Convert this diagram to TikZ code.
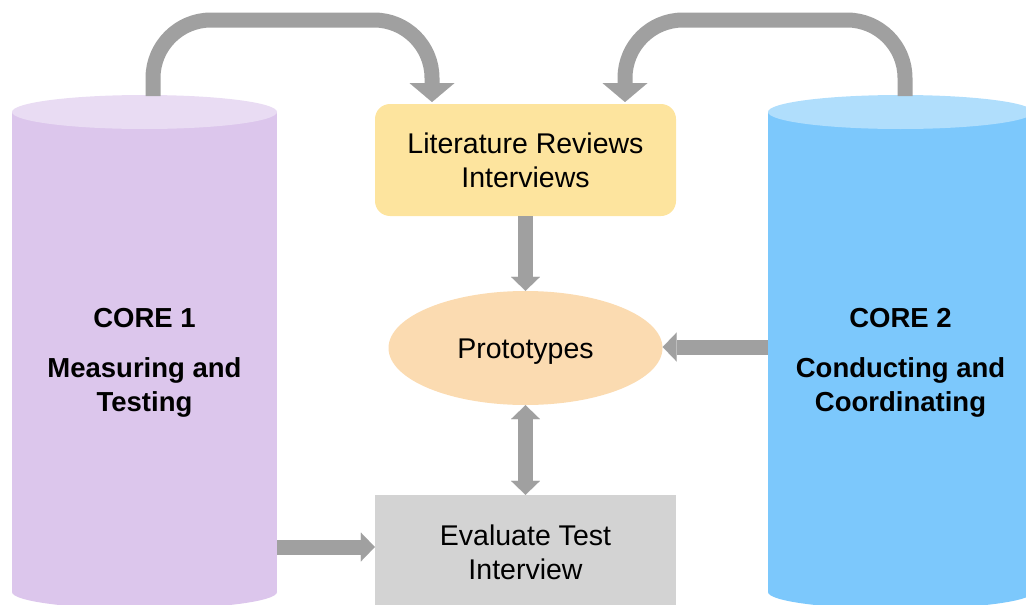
\documentclass[tikz,border=0pt]{standalone}
\usepackage{fontspec}
\setmainfont{Liberation Sans}
\usetikzlibrary{arrows.meta,shapes.geometric}
\definecolor{purplebody}{HTML}{DCC6EC}
\definecolor{purpletop}{HTML}{E9DCF3}
\definecolor{bluebody}{HTML}{7CC8FC}
\definecolor{bluetop}{HTML}{B0DEFC}
\definecolor{litfill}{HTML}{FDE49E}
\definecolor{protofill}{HTML}{FBDBB1}
\definecolor{evalfill}{HTML}{D3D3D3}
\definecolor{arrowgrey}{HTML}{A0A0A0}
\tikzset{
  body/.style={font=\fontsize{28.5}{34}\selectfont, align=center, text=black},
  corelabel/.style={font=\bfseries\fontsize{27.5}{34}\selectfont, align=center, text=black},
  flow/.style={draw=arrowgrey, line width=15pt},
  bigtip/.style={-{Triangle[width=45pt,length=19pt,line width=0.01pt]}},
  smalltip/.style={-{Triangle[width=29pt,length=14pt,line width=0.01pt]}},
  twotips/.style={{Triangle[width=29pt,length=14pt,line width=0.01pt]}-{Triangle[width=29pt,length=14pt,line width=0.01pt]}},
}
\begin{document}
\begin{tikzpicture}[x=1pt,y=-1pt]
\useasboundingbox (0,0) rectangle (1026,605);

% left cylinder
\fill[purplebody] (12,112) rectangle (277,592);
\fill[purplebody] (144.5,592) ellipse [x radius=132.5, y radius=17];
\fill[purpletop] (144.5,112) ellipse [x radius=132.5, y radius=17];
% right cylinder
\fill[bluebody] (768,112) rectangle (1033,592);
\fill[bluebody] (900.5,592) ellipse [x radius=132.5, y radius=17];
\fill[bluetop] (900.5,112) ellipse [x radius=132.5, y radius=17];

\node[corelabel] (core1) at (144.5,363) {CORE 1\\[16pt]Measuring and\\Testing};
\node[corelabel] (core2) at (900.5,363) {CORE 2\\[16pt]Conducting and\\Coordinating};

% centre column
\node[body, fill=litfill, rounded corners=15pt, minimum width=301pt, minimum height=112pt]
  (lit) at (525.5,160) {Literature Reviews\\Interviews};
\node[body, ellipse, fill=protofill, minimum width=274pt, minimum height=114pt, inner sep=0pt,
  text height=26pt, text depth=6pt]
  (proto) at (525.5,348) {Prototypes};
\node[body, fill=evalfill, minimum width=301pt, minimum height=114pt]
  (eval) at (525.5,552) {Evaluate Test\\Interview};

% connector anchors on the cylinders and box tops
\coordinate (c1top) at (153,96);
\coordinate (c2top) at (905,96);
\coordinate (litinL) at (432,102);
\coordinate (litinR) at (625,102);
\coordinate (c2side) at (768,347);
\coordinate (c1side) at (277,547);

% arcs over the top
\draw[flow, bigtip, rounded corners=58pt] (c1top) -- (153,20) -- (432,20) -- (litinL);
\draw[flow, bigtip, rounded corners=58pt] (c2top) -- (905,20) -- (625,20) -- (litinR);

% straight connectors
\draw[flow, smalltip] (lit.south) -- (proto.north);
\draw[flow, smalltip] (c2side) -- (c2side -| proto.east);
\draw[flow, twotips] (proto.south) -- (eval.north);
\draw[flow, smalltip] (c1side) -- (c1side -| eval.west);
\end{tikzpicture}
\end{document}
